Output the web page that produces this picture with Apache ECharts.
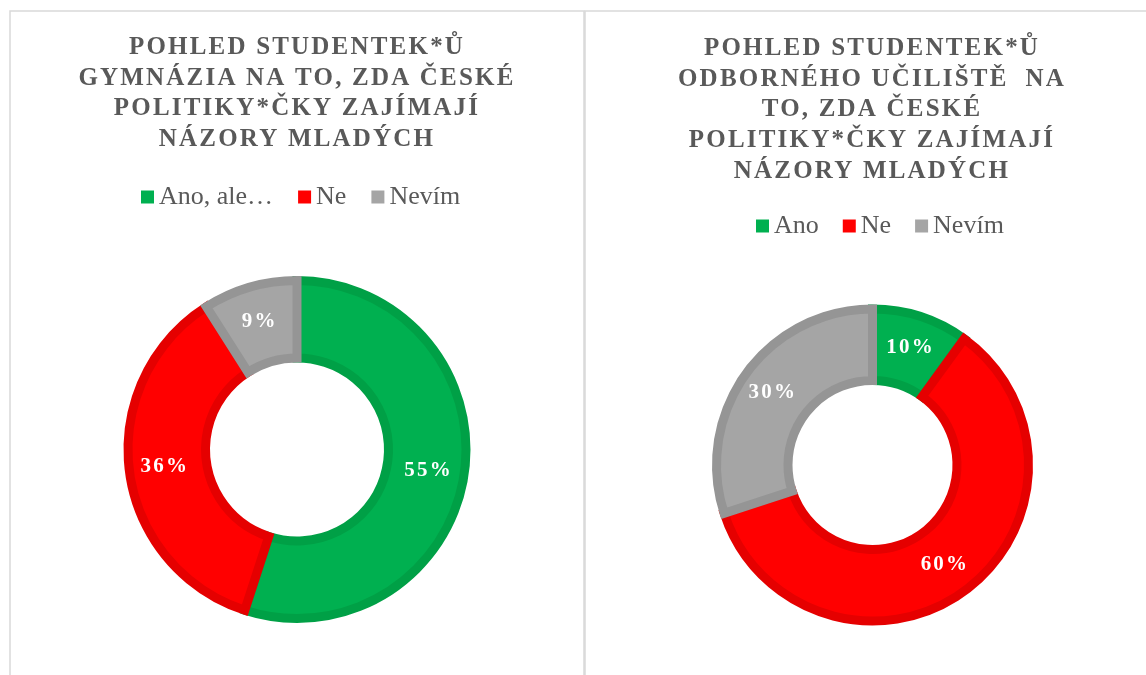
<!DOCTYPE html>
<html lang="cs">
    <head>
        <meta charset="UTF-8">
        <title>Názory mladých</title>
        <script src="https://cdn.jsdelivr.net/npm/echarts@6/dist/echarts.min.js"></script>
        <style type="text/css">
            html, body {
                margin: 0;
                padding: 0;
                background: #fff;
            }
        </style>
    </head>
    <body>
        <div id="main" style="width: 1146px;height:675px;"></div>
    </body>

    <script type="text/javascript">
        // gymnázium
        var gymNames = ['Ano, ale…', 'Ne', 'Nevím'];
        var gymValues = [55, 36, 9];
        // odborné učiliště
        var souNames = ['Ano', 'Ne', 'Nevím'];
        var souValues = [10, 60, 30];

        var fillColors = ['#00B050', '#FF0000', '#A5A5A5'];
        var edgeColors = ['#00A046', '#E50000', '#959595'];

        var serif = 'Liberation Serif';
        var edge = 9;

        // the excel original spaces out the bold title and label letters,
        // zrender has no option for that so set it on the canvas before drawing
        var fillText = CanvasRenderingContext2D.prototype.fillText;
        CanvasRenderingContext2D.prototype.fillText = function (text, x, y, maxWidth) {
            this.letterSpacing = /bold/.test(this.font) ? '2.2px' : '0px';
            return maxWidth == null ? fillText.call(this, text, x, y) : fillText.call(this, text, x, y, maxWidth);
        };

        function buildData(names, values) {
            var out = [];
            for (var i = 0; i < names.length; i++) {
                out.push({
                    name: names[i],
                    value: values[i],
                    itemStyle: {color: fillColors[i], borderColor: edgeColors[i]}
                });
            }
            return out;
        }

        function donut(cx, cy, r0, r, names, values) {
            return {
                type: 'pie',
                center: [cx, cy],
                // border is drawn on the path centre, so pull radii in by half of it
                radius: [r0 + edge / 2, r - edge / 2],
                startAngle: 90,
                clockwise: true,
                avoidLabelOverlap: false,
                itemStyle: {borderWidth: edge, borderJoin: 'miter'},
                label: {
                    show: true,
                    position: 'inside',
                    formatter: '{c}%',
                    color: '#fff',
                    fontFamily: serif,
                    fontWeight: 'bold',
                    fontSize: 21
                },
                labelLine: {show: false},
                emphasis: {disabled: true},
                data: buildData(names, values)
            };
        }

        var titleStyle = {
            color: '#595959',
            fontFamily: serif,
            fontWeight: 'bold',
            fontSize: 25,
            lineHeight: 30.8
        };
        var legendStyle = {
            color: '#595959',
            fontFamily: serif,
            fontSize: 26
        };

        var myChart = echarts.init(document.getElementById('main'));
        myChart.setOption({
            animation: false,
            title: [{
                text: 'POHLED STUDENTEK*Ů\nGYMNÁZIA NA TO, ZDA ČESKÉ\nPOLITIKY*ČKY ZAJÍMAJÍ\nNÁZORY MLADÝCH',
                left: 297,
                top: 32,
                textAlign: 'center',
                padding: 0,
                textStyle: titleStyle
            }, {
                text: 'POHLED STUDENTEK*Ů\nODBORNÉHO UČILIŠTĚ  NA\nTO, ZDA ČESKÉ\nPOLITIKY*ČKY ZAJÍMAJÍ\nNÁZORY MLADÝCH',
                left: 872,
                top: 33,
                textAlign: 'center',
                padding: 0,
                textStyle: titleStyle
            }],
            legend: [{
                data: gymNames,
                left: 141,
                top: 184,
                padding: 0,
                icon: 'rect',
                itemWidth: 13,
                itemHeight: 13,
                itemGap: 25,
                selectedMode: false,
                itemStyle: {borderWidth: 0},
                textStyle: legendStyle
            }, {
                data: souNames,
                left: 756,
                top: 213,
                padding: 0,
                icon: 'rect',
                itemWidth: 13,
                itemHeight: 13,
                itemGap: 24,
                selectedMode: false,
                itemStyle: {borderWidth: 0},
                textStyle: legendStyle
            }],
            graphic: [{
                type: 'rect',
                shape: {x: 10, y: 11, width: 574, height: 700},
                style: {fill: 'none', stroke: '#D9D9D9', lineWidth: 1.5},
                silent: true
            }, {
                type: 'rect',
                shape: {x: 585, y: 11, width: 600, height: 700},
                style: {fill: 'none', stroke: '#D9D9D9', lineWidth: 1.5},
                silent: true
            }],
            series: [
                donut(297, 449.5, 87, 173.5, gymNames, gymValues),
                donut(872.5, 465, 80, 160.5, souNames, souValues)
            ]
        });
    </script>
</html>
